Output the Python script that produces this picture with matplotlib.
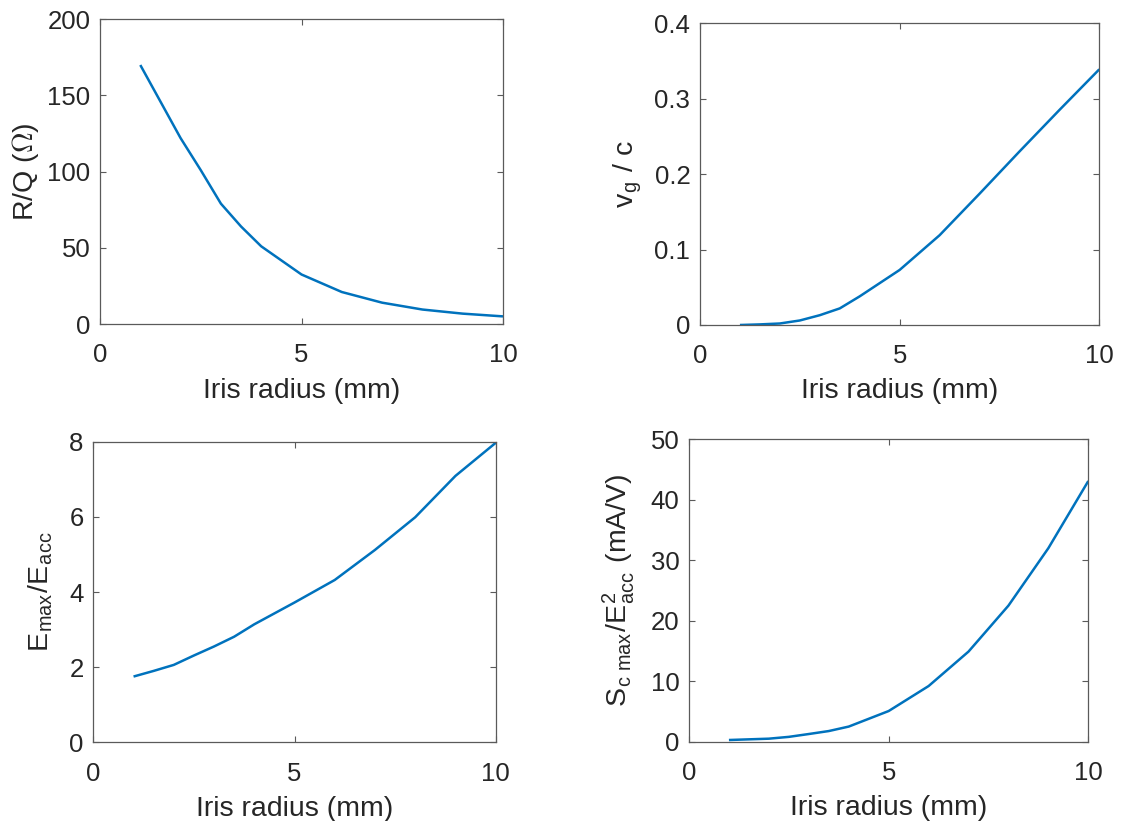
import matplotlib
matplotlib.use("Agg")
import matplotlib.pyplot as plt
from matplotlib.ticker import FuncFormatter

plt.rcParams['font.family'] = ['Liberation Sans', 'DejaVu Sans']
plt.rcParams['mathtext.fontset'] = 'cm'

# ---- data ----
iris_radius = [1, 1.5, 2, 2.5, 3, 3.5, 4, 5, 6, 7, 8, 9, 10]
r_over_q = [170, 146, 122, 101, 79, 64, 51, 32.5, 21, 14, 9.5, 6.8, 5]
vg_over_c = [0.0, 0.0008, 0.002, 0.006, 0.013, 0.022, 0.038, 0.073, 0.119, 0.174, 0.230, 0.285, 0.339]
emax_over_eacc = [1.75, 1.90, 2.06, 2.31, 2.55, 2.81, 3.14, 3.72, 4.32, 5.12, 5.99, 7.09, 7.97]
sc_over_eacc2 = [0.28, 0.39, 0.5, 0.8, 1.27, 1.76, 2.5, 5.07, 9.2, 14.9, 22.5, 32.0, 43.1]

x_ticks = [0, 5, 10]
y_ticks_rq = [0, 50, 100, 150, 200]
y_ticks_vg = [0, 0.1, 0.2, 0.3, 0.4]
y_ticks_em = [0, 2, 4, 6, 8]
y_ticks_sc = [0, 10, 20, 30, 40, 50]

x_label = 'Iris radius (mm)'
y_labels = [r'R/Q ($\Omega$)',
            r'v$_\mathregular{g}$ / c',
            r'E$_\mathregular{max}$/E$_\mathregular{acc}$',
            r'S$_\mathregular{c\ max}$/E$^\mathregular{2}_\mathregular{acc}$ (mA/V)']

# ---- layout (pixels, top-origin) ----
W, H = 1121, 821
fig = plt.figure(figsize=(W / 100, H / 100), dpi=100)
fig.patch.set_facecolor('white')

boxes = [  # left, top, right, bottom
    (100, 19.3, 503, 324),
    (700, 23.3, 1099.3, 325),
    (93.3, 441.7, 495.7, 742.3),
    (689, 439.3, 1088.3, 741.7),
]
ylabel_x = [41, 644, 55, 637]

series = [r_over_q, vg_over_c, emax_over_eacc, sc_over_eacc2]
yticks = [y_ticks_rq, y_ticks_vg, y_ticks_em, y_ticks_sc]

line_color = '#0072BD'
axis_color = '#5a5a5a'
text_color = '#262626'

fmt = FuncFormatter(lambda v, p: '%g' % v)

for i in range(4):
    l, t, r, b = boxes[i]
    ax = fig.add_axes([l / W, (H - b) / H, (r - l) / W, (b - t) / H])
    ax.plot(iris_radius, series[i], color=line_color, lw=1.8, solid_capstyle='butt')
    ax.set_xlim(0, 10)
    ax.set_ylim(yticks[i][0], yticks[i][-1])
    ax.set_xticks(x_ticks)
    ax.set_yticks(yticks[i])
    ax.xaxis.set_major_formatter(fmt)
    ax.yaxis.set_major_formatter(fmt)
    ax.tick_params(direction='in', length=4.5, width=0.8, color=axis_color,
                   top=True, right=True, labelsize=18.5, labelcolor=text_color)
    ax.tick_params(axis='x', pad=14)
    ax.tick_params(axis='y', pad=7)
    for s in ax.spines.values():
        s.set_color(axis_color)
        s.set_linewidth(0.9)
    ax.set_xlabel(x_label, fontsize=20.5, color=text_color)
    ax.xaxis.set_label_coords(0.5, -53.5 / (b - t))
    ax.xaxis.label.set_va('top')
    ax.set_ylabel(y_labels[i], fontsize=20.5, color=text_color)
    ax.yaxis.set_label_coords((ylabel_x[i] - l) / (r - l), 0.5)

fig.savefig('out.png', dpi=100, facecolor='white')
